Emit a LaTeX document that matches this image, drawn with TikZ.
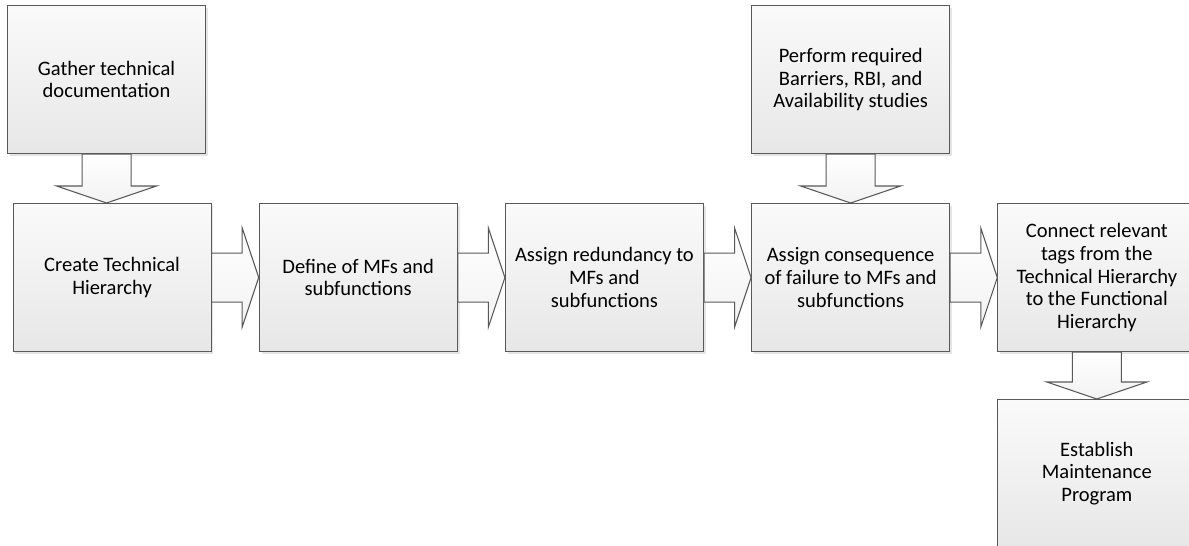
\documentclass[tikz,border=0pt]{standalone}
\usepackage{fontspec}
\setmainfont{Carlito}
\usetikzlibrary{calc,shadows}

\definecolor{edgegray}{HTML}{595959}
\definecolor{filltop}{HTML}{FAFAFA}
\definecolor{fillbot}{HTML}{E7E7E7}

\tikzset{
  stepbox/.style={
    draw=edgegray, line width=0.8pt,
    top color=filltop, bottom color=fillbot,
    minimum width=148.5pt, minimum height=111pt,
    inner sep=0pt, align=center, anchor=north west,
    font=\fontsize{15.4pt}{17.1pt}\selectfont,
    drop shadow={shadow xshift=1.8pt, shadow yshift=-1.8pt, fill=black!10, opacity=1}
  },
  blockarrow/.style={
    draw=edgegray, line width=0.8pt, line join=miter,
    top color=white, bottom color=black!5
  }
}

% horizontal block arrow from the east side of #1 to the west side of #2
\newcommand\harrowbetween[2]{%
  \draw[blockarrow]
    ($(#1.east)+(0,-24.5)$) -- ($(#2.west)+(-16.5,-24.5)$)
    -- ($(#2.west)+(-16.5,-49.5)$) -- (#2.west)
    -- ($(#2.west)+(-16.5,49.5)$) -- ($(#2.west)+(-16.5,24.5)$)
    -- ($(#1.east)+(0,24.5)$) -- cycle;}

% vertical block arrow from the south side of #1 down onto the top of #2
\newcommand\varrowbetween[2]{%
  \coordinate (tip-#1) at (#1.south |- #2.north);
  \draw[blockarrow]
    ($(#1.south)+(-24.5,0)$) -- ($(tip-#1)+(-24.5,-17)$)
    -- ($(tip-#1)+(-50,-17)$) -- (tip-#1)
    -- ($(tip-#1)+(50,-17)$) -- ($(tip-#1)+(24.5,-17)$)
    -- ($(#1.south)+(24.5,0)$) -- cycle;}

\begin{document}
\begin{tikzpicture}[x=0.75pt, y=-0.75pt]
  \useasboundingbox (0,0) rectangle (1189,546);
  \clip (0,0) rectangle (1189,546);

  % upper row
  \node[stepbox] (gather)  at (7,5)     {Gather technical\\documentation};
  \node[stepbox] (perform) at (751.1,5) {Perform required\\Barriers, RBI, and\\Availability studies};

  % main process row
  \node[stepbox] (create)  at (12.5,203)  {Create Technical\\Hierarchy};
  \node[stepbox] (define)  at (258.7,203) {Define of MFs and\\subfunctions};
  \node[stepbox] (redund)  at (504.9,203) {Assign redundancy to\\MFs and\\subfunctions};
  \node[stepbox] (conseq)  at (751.1,203) {Assign consequence\\of failure to MFs and\\subfunctions};
  \node[stepbox] (connect) at (997.3,203) {Connect relevant\\tags from the\\Technical Hierarchy\\to the Functional\\Hierarchy};

  % final step
  \node[stepbox] (establish) at (997.3,399) {Establish\\Maintenance\\Program};

  % block arrows
  \varrowbetween{gather}{create}
  \varrowbetween{perform}{conseq}
  \harrowbetween{create}{define}
  \harrowbetween{define}{redund}
  \harrowbetween{redund}{conseq}
  \harrowbetween{conseq}{connect}
  \varrowbetween{connect}{establish}
\end{tikzpicture}
\end{document}
